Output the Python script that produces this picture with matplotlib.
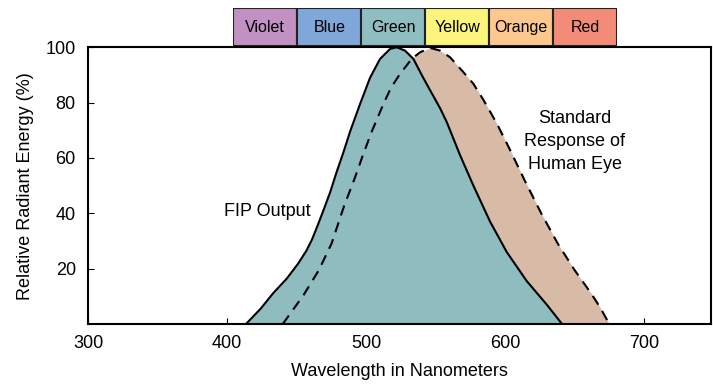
import matplotlib
matplotlib.use("Agg")
import matplotlib.pyplot as plt

plt.rcParams['font.family'] = ['Liberation Sans', 'DejaVu Sans']

# FIP output curve (wavelength nm, relative energy %)
fip_nm = [413.5, 424.0, 433.2, 443.0, 451.0, 457.0, 461.0, 465.0, 469.2, 474.0,
          478.8, 483.6, 488.4, 495.6, 502.8, 510.0, 517.2, 522.0, 528.0, 534.0,
          540.0, 546.0, 553.2, 558.0, 567.6, 577.2, 589.2, 601.2, 615.6, 630.0,
          641.0]
fip_pct = [0, 5.5, 11.2, 16.5, 21.8, 26.5, 30.5, 35.5, 41.0, 47.5,
           55.0, 62.0, 69.5, 79.5, 89.0, 95.8, 99.4, 100.0, 98.8, 95.8,
           90.0, 84.5, 78.0, 73.0, 61.0, 50.0, 37.0, 26.0, 15.5, 7.0,
           0]

# Standard response of human eye
eye_nm = [440.0, 455.0, 466.0, 475.2, 484.0, 492.0, 498.0, 504.0, 512.4, 518.0,
          524.4, 532.8, 538.8, 546.0, 553.2, 560.4, 570.0, 577.2, 584.4, 594.0,
          603.0, 614.0, 626.0, 638.0, 650.0, 662.0, 668.4, 675.0]
eye_pct = [0, 10.5, 19.5, 29.2, 42.5, 53.0, 61.5, 69.5, 79.5, 85.5,
           90.4, 95.8, 98.2, 99.8, 98.8, 96.4, 91.0, 86.8, 81.0, 72.5,
           63.5, 52.0, 40.0, 29.0, 19.5, 11.0, 6.0, 0]

bands = ['Violet', 'Blue', 'Green', 'Yellow', 'Orange', 'Red']
band_colors = ['#c291c3', '#80a7d9', '#8fbec0', '#fdf47c', '#fdc78d', '#f28b78']

x_ticks = [300, 400, 500, 600, 700]
y_ticks = [20, 40, 60, 80, 100]

fig = plt.figure(figsize=(7.13, 3.84), dpi=100)
ax = fig.add_axes([88.3/713, 60/384, (710.7-88.3)/713, (324-47.3)/384])

ax.fill_between(eye_nm, eye_pct, 0, color='#d8bba6', lw=0, zorder=1)
ax.fill_between(fip_nm, fip_pct, 0, color='#8fbcbf', lw=0, zorder=2)
ax.plot(fip_nm, fip_pct, color='black', lw=1.5, zorder=3,
        solid_joinstyle='round')
ax.plot(eye_nm, eye_pct, color='black', lw=1.5, zorder=4, dashes=(5, 3.5))

ax.set_xlim(300, 748)
ax.set_ylim(0, 100)
ax.set_xticks(x_ticks)
ax.set_yticks(y_ticks)
ax.tick_params(direction='in', length=4, width=0.8, labelsize=13, pad=8)
ax.tick_params(axis='y', pad=9)
for s in ax.spines.values():
    s.set_linewidth(1.5)
ax.set_xlabel('Wavelength in Nanometers', fontsize=13, labelpad=8)
ax.set_ylabel('Relative Radiant Energy (%)', fontsize=13, labelpad=8)

ax.text(429, 40.7, 'FIP Output', fontsize=13, ha='center', va='center', zorder=5)
ax.text(650, 66.0, 'Standard\nResponse of\nHuman Eye', fontsize=13, ha='center',
        va='center', linespacing=1.45, zorder=5)

# colour band boxes
bx = fig.add_axes([233.3/713, (384-46)/384, (617.3-233.3)/713, (46-8.3)/384])
bx.bar(range(len(bands)), [1]*len(bands), width=1, color=band_colors,
       edgecolor='#222222', linewidth=1.5)
for i, name in enumerate(bands):
    bx.text(i, 0.5, name, ha='center', va='center', fontsize=11.5)
bx.set_xlim(-0.5, len(bands) - 0.5)
bx.set_ylim(0, 1)
bx.axis('off')

fig.savefig('out.png', dpi=100)
